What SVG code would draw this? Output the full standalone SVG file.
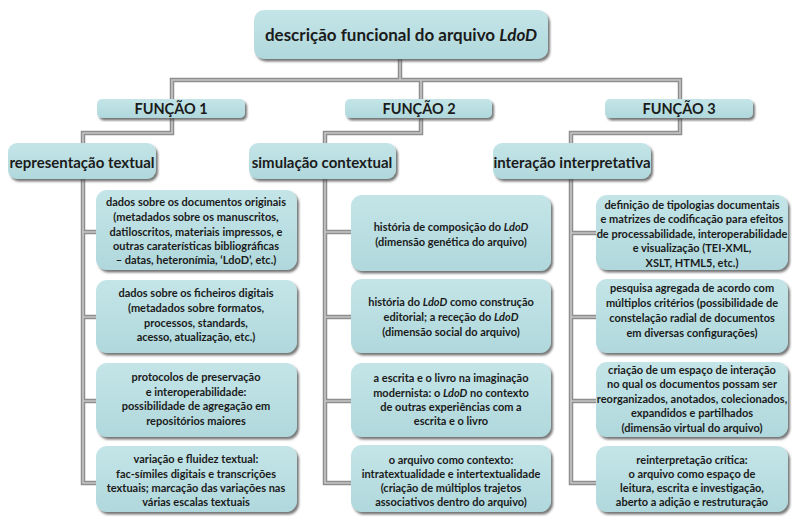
<svg xmlns="http://www.w3.org/2000/svg" width="793" height="517" viewBox="0 0 793 517">
<defs>
<linearGradient id="g" x1="0" y1="0" x2="0" y2="1">
<stop offset="0" stop-color="#c4e5e8"/>
<stop offset="1" stop-color="#b0d8dc"/>
</linearGradient>
<filter id="sh" x="-10%" y="-10%" width="120%" height="130%">
<feDropShadow dx="2" dy="2.5" stdDeviation="1" flood-color="#4a4a4a" flood-opacity="0.75"/>
</filter>
<style>
.box{fill:url(#g);filter:url(#sh)}
.c1{fill:none;stroke:#8e8e8e;stroke-width:4.5;stroke-linejoin:miter}
.c2{fill:none;stroke:#c6c6c6;stroke-width:1.6;stroke-linejoin:miter}
text{font-family:Lato,"Liberation Sans",sans-serif;font-weight:bold;fill:#1b1b1b;text-anchor:middle}
.root{font-size:17px}
.fn{font-size:14.5px}
.ti{font-size:15px}
.lf{font-size:11px}
.i{font-style:italic}
</style>
</defs>
<rect width="793" height="517" fill="#ffffff"/>
<g id="connectors">
<path class="c1" d="M400,59 V80 M172,100 V80 H680 V100 M421,80 V100 M172,118 V133 H83 V483 H96 M83,232 H96 M83,317 H96 M83,401 H96 M421,118 V133 H325 V483 H351 M325,232 H351 M325,317 H351 M325,401 H351 M680,118 V133 H571 V483 H596 M571,233 H596 M571,317 H596 M571,401 H596"/>
<path class="c2" d="M400,59 V80 M172,100 V80 H680 V100 M421,80 V100 M172,118 V133 H83 V483 H96 M83,232 H96 M83,317 H96 M83,401 H96 M421,118 V133 H325 V483 H351 M325,232 H351 M325,317 H351 M325,401 H351 M680,118 V133 H571 V483 H596 M571,233 H596 M571,317 H596 M571,401 H596"/>
</g>
<g id="root">
<rect class="box" x="254" y="10" width="294" height="49" rx="10"/>
<text class="root" x="401" y="41">descrição funcional do arquivo <tspan class="i">LdoD</tspan></text>
</g>
<g id="funcao1">
<rect class="box" x="97" y="99" width="148" height="19" rx="5"/>
<text class="fn" x="171" y="114">FUNÇÃO 1</text>
</g>
<g id="funcao2">
<rect class="box" x="345" y="99" width="147" height="19" rx="5"/>
<text class="fn" x="419" y="114">FUNÇÃO 2</text>
</g>
<g id="funcao3">
<rect class="box" x="605" y="99" width="148" height="19" rx="5"/>
<text class="fn" x="679" y="114">FUNÇÃO 3</text>
</g>
<g id="representacao">
<rect class="box" x="8" y="143" width="148" height="36" rx="9"/>
<text class="ti" x="82" y="168">representação textual</text>
</g>
<g id="simulacao">
<rect class="box" x="249" y="143" width="147" height="36" rx="9"/>
<text class="ti" x="322" y="168">simulação contextual</text>
</g>
<g id="interacao">
<rect class="box" x="493" y="143" width="158" height="36" rx="9"/>
<text class="ti" x="572" y="168">interação interpretativa</text>
</g>
<g id="f1a">
<rect class="box" x="96" y="190" width="201" height="80" rx="11"/>
<text class="lf" x="196" y="206">dados sobre os documentos originais</text>
<text class="lf" x="196" y="221">(metadados sobre os manuscritos,</text>
<text class="lf" x="196" y="236">datiloscritos, materiais  impressos, e</text>
<text class="lf" x="196" y="250">outras caraterísticas bibliográficas</text>
<text class="lf" x="196" y="264">– datas, heteronímia,  ‘LdoD’, etc.)</text>
</g>
<g id="f1b">
<rect class="box" x="96" y="280" width="201" height="73" rx="11"/>
<text class="lf" x="196" y="297">dados sobre os ficheiros digitais</text>
<text class="lf" x="196" y="312">(metadados sobre formatos,</text>
<text class="lf" x="196" y="327">processos, standards,</text>
<text class="lf" x="196" y="341">acesso, atualização, etc.)</text>
</g>
<g id="f1c">
<rect class="box" x="96" y="363" width="201" height="74" rx="11"/>
<text class="lf" x="196" y="381">protocolos de preservação</text>
<text class="lf" x="196" y="396">e interoperabilidade:</text>
<text class="lf" x="196" y="410">possibilidade de agregação em</text>
<text class="lf" x="196" y="425">repositórios maiores</text>
</g>
<g id="f1d">
<rect class="box" x="96" y="446" width="201" height="66" rx="11"/>
<text class="lf" x="196" y="463">variação e fluidez textual:</text>
<text class="lf" x="196" y="478">fac-símiles digitais e transcrições</text>
<text class="lf" x="196" y="492">textuais; marcação das variações nas</text>
<text class="lf" x="196" y="506">várias escalas textuais</text>
</g>
<g id="f2a">
<rect class="box" x="351" y="195" width="200" height="76" rx="11"/>
<text class="lf" x="451" y="231">história de composição do <tspan class="i">LdoD</tspan></text>
<text class="lf" x="451" y="246">(dimensão genética do arquivo)</text>
</g>
<g id="f2b">
<rect class="box" x="351" y="279" width="200" height="74" rx="11"/>
<text class="lf" x="451" y="306">história do <tspan class="i">LdoD</tspan> como construção</text>
<text class="lf" x="451" y="321">editorial; a receção do <tspan class="i">LdoD</tspan></text>
<text class="lf" x="451" y="336">(dimensão social do arquivo)</text>
</g>
<g id="f2c">
<rect class="box" x="351" y="363" width="200" height="74" rx="11"/>
<text class="lf" x="451" y="382">a escrita e o livro na imaginação</text>
<text class="lf" x="451" y="397">modernista: o <tspan class="i">LdoD</tspan> no contexto</text>
<text class="lf" x="451" y="411">de outras experiências com a</text>
<text class="lf" x="451" y="425">escrita e o livro</text>
</g>
<g id="f2d">
<rect class="box" x="351" y="445" width="200" height="67" rx="11"/>
<text class="lf" x="451" y="464">o arquivo como contexto:</text>
<text class="lf" x="451" y="478">intratextualidade e intertextualidade</text>
<text class="lf" x="451" y="492">(criação de múltiplos  trajetos</text>
<text class="lf" x="451" y="506">associativos dentro do arquivo)</text>
</g>
<g id="f3a">
<rect class="box" x="596" y="195" width="192" height="75" rx="11"/>
<text class="lf" x="692" y="209">definição de tipologias documentais</text>
<text class="lf" x="692" y="223">e matrizes de codificação para efeitos</text>
<text class="lf" x="692" y="238">de processabilidade, interoperabilidade</text>
<text class="lf" x="692" y="252">e visualização (TEI-XML,</text>
<text class="lf" x="692" y="267">XSLT, HTML5, etc.)</text>
</g>
<g id="f3b">
<rect class="box" x="596" y="279" width="192" height="74" rx="11"/>
<text class="lf" x="692" y="292">pesquisa agregada de acordo com</text>
<text class="lf" x="692" y="307">múltiplos critérios (possibilidade de</text>
<text class="lf" x="692" y="322">constelação radial de documentos</text>
<text class="lf" x="692" y="337">em diversas configurações)</text>
</g>
<g id="f3c">
<rect class="box" x="596" y="362" width="192" height="75" rx="11"/>
<text class="lf" x="692" y="374">criação de um espaço de interação</text>
<text class="lf" x="692" y="388">no qual os documentos possam ser</text>
<text class="lf" x="692" y="403">reorganizados, anotados, colecionados,</text>
<text class="lf" x="692" y="417">expandidos e partilhados</text>
<text class="lf" x="692" y="432">(dimensão virtual do arquivo)</text>
</g>
<g id="f3d">
<rect class="box" x="596" y="446" width="192" height="66" rx="11"/>
<text class="lf" x="692" y="464">reinterpretação crítica:</text>
<text class="lf" x="692" y="478">o arquivo como espaço  de</text>
<text class="lf" x="692" y="492">leitura, escrita e investigação,</text>
<text class="lf" x="692" y="506">aberto a adição e restruturação</text>
</g>
</svg>
